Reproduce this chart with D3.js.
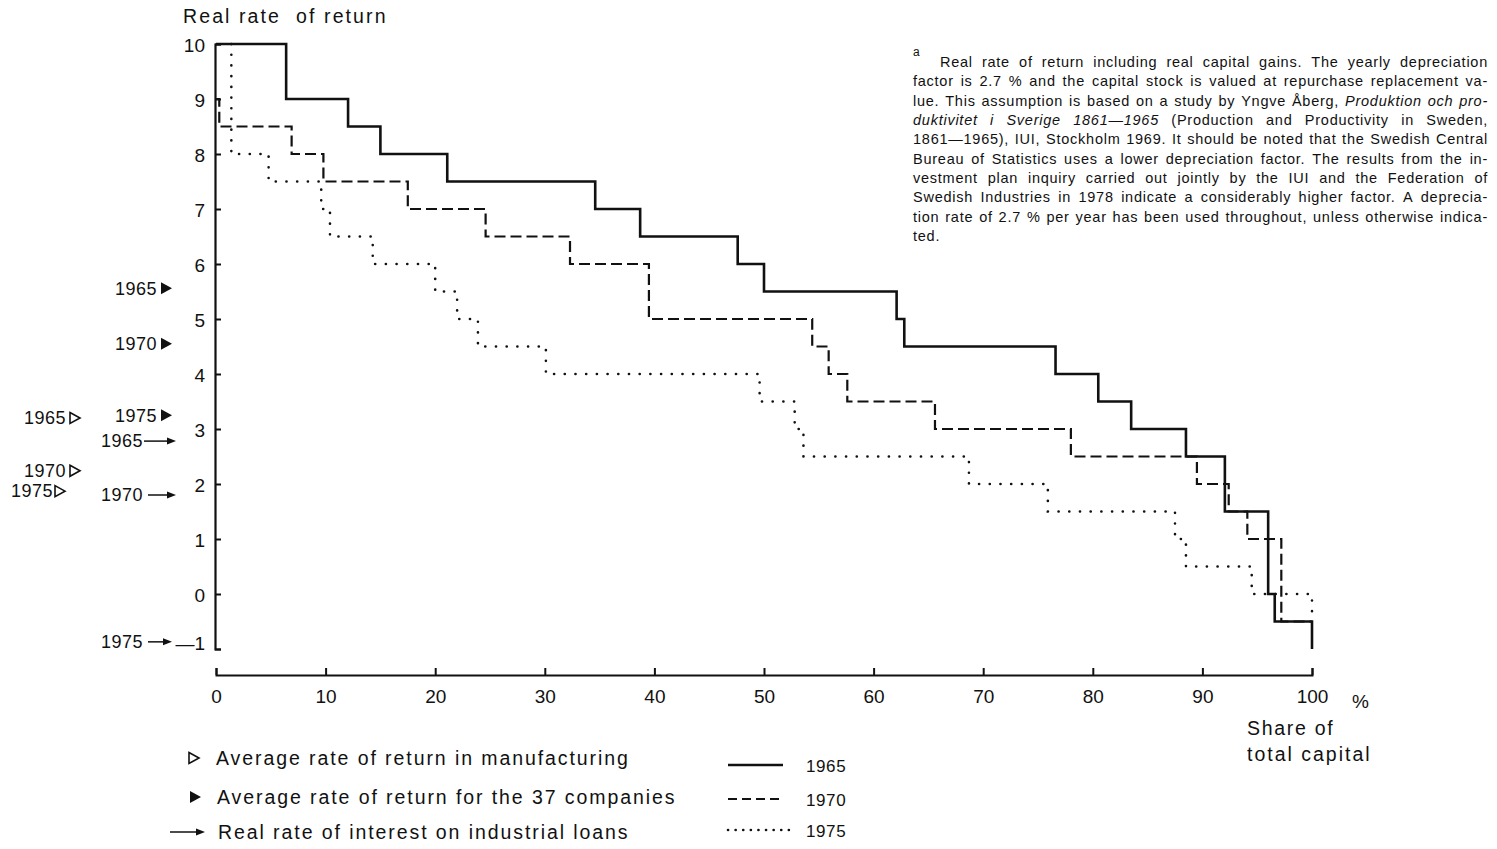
<!DOCTYPE html>
<html><head><meta charset="utf-8">
<script src="https://cdn.jsdelivr.net/npm/d3@7"></script>
<style>
body{margin:0;background:#fff}
svg{display:block}
text{font-family:"Liberation Sans",Arial,sans-serif;fill:#111}
</style>
</head><body>
<svg id="c" width="1497" height="849"></svg>
<script>
// ---------------- DATA ----------------
const xTickValues = [0,10,20,30,40,50,60,70,80,90,100];
const yTickValues = [-1,0,1,2,3,4,5,6,7,8,9,10];
const yTickLabels = ["—1","0","1","2","3","4","5","6","7","8","9","10"];

// step breakpoints (share of total capital, %) and level reached at each breakpoint
const x1965 = [0, 6.4, 12.05, 15.0, 21.1, 34.6, 38.7, 47.6, 50.0, 62.1, 62.8, 76.6, 80.5, 83.5, 88.5, 92.05, 96.0, 96.6, 100];
const y1965 = [10, 9, 8.5, 8, 7.5, 7, 6.5, 6, 5.5, 5, 4.5, 4, 3.5, 3, 2.5, 1.5, 0, -0.5, -1];

const x1970 = [0, 0.3, 6.9, 9.8, 17.5, 24.6, 32.3, 39.5, 54.4, 55.9, 57.6, 65.6, 78.0, 89.5, 92.4, 94.1, 97.2, 100];
const y1970 = [9, 8.5, 8, 7.5, 7, 6.5, 6, 5, 4.5, 4, 3.5, 3, 2.5, 2, 1.5, 1, -0.5, -0.5];

const x1975 = [1.4, 1.4, 4.8, 9.6, 10.4, 14.3, 20.0, 22.0, 23.9, 30.1, 49.6, 52.8, 53.6, 68.7, 75.9, 87.5, 88.5, 94.5, 100];
const y1975 = [10, 8, 7.5, 7, 6.5, 6, 5.5, 5, 4.5, 4, 3.5, 3, 2.5, 2, 1.5, 1, 0.5, 0, -0.5];

const seriesYears = ["1965","1970","1975"];

// averages marked on the left of the y axis
const manufYears  = ["1965","1970","1975"];
const manufValues = [3.2, 2.24, 1.87];      // average rate of return in manufacturing
const compYears   = ["1965","1970","1975"];
const compValues  = [5.56, 4.55, 3.25];     // average for the 37 companies
const loanYears   = ["1965","1970","1975"];
const loanValues  = [2.78, 1.8, -0.87];     // real rate of interest on industrial loans

const legendLabels = ["Average rate of return in manufacturing","Average rate of return for the 37 companies","Real rate of interest on industrial loans"];

const noteLines = [
  [["Real rate of return including real capital gains. The yearly depreciation",0]],
  [["factor is 2.7 % and the capital stock is valued at repurchase replacement va-",0]],
  [["lue. This assumption is based on a study by Yngve Åberg,",0],["Produktion och pro-",1]],
  [["duktivitet i Sverige 1861—1965",1],["(Production and Productivity in Sweden,",0]],
  [["1861—1965), IUI, Stockholm 1969. It should be noted that the Swedish Central",0]],
  [["Bureau of Statistics uses a lower depreciation factor. The results from the in-",0]],
  [["vestment plan inquiry carried out jointly by the IUI and the Federation of",0]],
  [["Swedish Industries in 1978 indicate a considerably higher factor. A deprecia-",0]],
  [["tion rate of 2.7 % per year has been used throughout, unless otherwise indica-",0]],
  [["ted.",0]]
];

// ---------------- LAYOUT / STYLE ----------------
const svg = d3.select("#c");
const x = d3.scaleLinear().domain([0,100]).range([216,1312]);
const y = d3.scaleLinear().domain([-1,10]).range([649,44]);
const INK = "#111";
const styles = {
  "1965": {w:2.6, dash:null, cap:"butt"},
  "1970": {w:2.2, dash:"11 5", cap:"butt"},
  "1975": {w:2.6, dash:"0.1 10.6", cap:"round"}
};

// title
svg.append("text").attr("x",183).attr("y",16).attr("dy","0.35em")
  .style("font-size","19.5px").style("letter-spacing","2.1px").style("white-space","pre")
  .text("Real rate  of return");

// y axis
const yAxis = d3.axisLeft(y).tickValues(yTickValues)
  .tickFormat((d,i)=>yTickLabels[i]).tickSizeInner(-6).tickSizeOuter(-6).tickPadding(10);
const gy = svg.append("g").attr("transform","translate(215,0)").call(yAxis);
gy.select(".domain").attr("stroke",INK).attr("stroke-width",2.2);
gy.selectAll(".tick line").attr("stroke",INK).attr("stroke-width",2);
gy.selectAll(".tick text").style("font-size","19px").style("font-family",'"Liberation Sans",Arial,sans-serif').attr("fill",INK)
  .attr("y",d=>d===-1?-7:0).attr("dy","0.4em");

// x axis
const xAxis = d3.axisBottom(x).tickValues(xTickValues).tickSizeInner(-7).tickSizeOuter(-7).tickPadding(15);
const gx = svg.append("g").attr("transform","translate(0,675)").call(xAxis);
gx.select(".domain").attr("stroke",INK).attr("stroke-width",2);
gx.selectAll(".tick line").attr("stroke",INK).attr("stroke-width",2);
gx.selectAll(".tick text").style("font-size","19px").style("font-family",'"Liberation Sans",Arial,sans-serif').attr("fill",INK);

svg.append("text").attr("x",1352).attr("y",701).attr("dy","0.35em").style("font-size","19px").text("%");
svg.append("text").attr("x",1247).attr("y",728).attr("dy","0.35em").style("font-size","19.5px").style("letter-spacing","1.7px").text("Share of");
svg.append("text").attr("x",1247).attr("y",754).attr("dy","0.35em").style("font-size","19.5px").style("letter-spacing","2px").text("total capital");

// step lines
const line = d3.line().x(d=>x(d[0])).y(d=>y(d[1])).curve(d3.curveStepAfter);
const seriesData = {"1965":d3.zip(x1965,y1965),"1970":d3.zip(x1970,y1970),"1975":d3.zip(x1975,y1975)};
seriesYears.slice().reverse().forEach(yr=>{
  const s = styles[yr];
  svg.append("path").attr("d",line(seriesData[yr])).attr("fill","none")
    .attr("stroke",INK).attr("stroke-width",s.w).attr("stroke-dasharray",s.dash)
    .attr("stroke-linecap",s.cap).attr("stroke-linejoin","miter");
});

// marker glyphs
function filledTri(g,x0,cy){ g.append("path").attr("d",`M${x0},${cy-6}L${x0+11},${cy}L${x0},${cy+6}Z`).attr("fill",INK); }
function openTri(g,x0,cy){ g.append("path").attr("d",`M${x0},${cy-5.5}L${x0+10},${cy}L${x0},${cy+5.5}Z`).attr("fill","#fff").attr("stroke",INK).attr("stroke-width",1.6); }
function arrow(g,x0,x1,cy){
  g.append("line").attr("x1",x0).attr("x2",x1-6).attr("y1",cy).attr("y2",cy).attr("stroke",INK).attr("stroke-width",1.5);
  g.append("path").attr("d",`M${x1-9},${cy-3.5}L${x1},${cy}L${x1-9},${cy+3.5}Z`).attr("fill",INK);
}
const mk = svg.append("g");
function lbl(xEnd,cy,t){ mk.append("text").attr("x",xEnd).attr("y",cy).attr("dy","0.35em").attr("text-anchor","end").style("font-size","18px").style("letter-spacing","0.5px").text(t); }

const compLayout = [{te:157,tx:161},{te:157,tx:161},{te:157,tx:161}];
compValues.forEach((v,i)=>{ const cy=y(v); lbl(compLayout[i].te,cy,compYears[i]); filledTri(mk,compLayout[i].tx,cy); });
const manufLayout = [{te:66,tx:70},{te:66,tx:70},{te:53,tx:55}];
manufValues.forEach((v,i)=>{ const cy=y(v); lbl(manufLayout[i].te,cy,manufYears[i]); openTri(mk,manufLayout[i].tx,cy); });
const loanLayout = [{te:143,a0:144,a1:176},{te:143,a0:148,a1:176},{te:143,a0:148,a1:172}];
loanValues.forEach((v,i)=>{ const cy=y(v); lbl(loanLayout[i].te,cy,loanYears[i]); arrow(mk,loanLayout[i].a0,loanLayout[i].a1,cy); });

// legend
const lg = svg.append("g");
const legY = [758,797,832];
openTri(lg,189,legY[0]); filledTri(lg,190,legY[1]); arrow(lg,170,205,legY[2]);
const legX = [216,217,218];
legendLabels.forEach((t,i)=>{
  lg.append("text").attr("x",legX[i]).attr("y",legY[i]).attr("dy","0.35em")
    .style("font-size","19.5px").style("letter-spacing","1.92px").text(t);
});
const sampY = [765,799,830];
seriesYears.forEach((yr,i)=>{
  const s = styles[yr];
  lg.append("line").attr("x1",728).attr("x2",yr==="1975"?790:783).attr("y1",sampY[i]).attr("y2",sampY[i])
    .attr("stroke",INK).attr("stroke-width",s.w).attr("stroke-dasharray",yr==="1970"?"9 5":(yr==="1975"?"0.1 7.5":null))
    .attr("stroke-linecap",s.cap);
  lg.append("text").attr("x",806).attr("y",sampY[i]+1).attr("dy","0.35em").style("font-size","17px").style("letter-spacing","0.6px").text(yr);
});

// footnote (justified)
const nt = svg.append("g");
nt.append("text").attr("x",913).attr("y",56).style("font-size","12px").text("a");
const noteLeft = 913, noteRight = 1488, firstIndent = 940, lineH = 19.35, base0 = 67;
const NFS = "14.5px", NLS = "0.75px";
const meas = svg.append("text").style("font-size",NFS).style("letter-spacing",NLS);
function wordWidth(w,it){ meas.style("font-style",it?"italic":"normal").text(w); return meas.node().getComputedTextLength(); }
noteLines.forEach((segs,li)=>{
  const words=[];
  segs.forEach(([t,it])=>t.split(" ").forEach(w=>{ if(w) words.push({w,it}); }));
  const left = li===0?firstIndent:noteLeft;
  words.forEach(o=>o.len=wordWidth(o.w,o.it));
  const total = d3.sum(words,o=>o.len);
  const last = li===noteLines.length-1;
  const gap = (last||words.length<2)?4.5:(noteRight-left-total)/(words.length-1);
  let cx = left;
  const by = base0 + li*lineH;
  words.forEach(o=>{
    nt.append("text").attr("x",cx).attr("y",by).style("font-size",NFS).style("letter-spacing",NLS)
      .style("font-style",o.it?"italic":"normal").text(o.w);
    cx += o.len + gap;
  });
});
meas.remove();
</script>
</body></html>
